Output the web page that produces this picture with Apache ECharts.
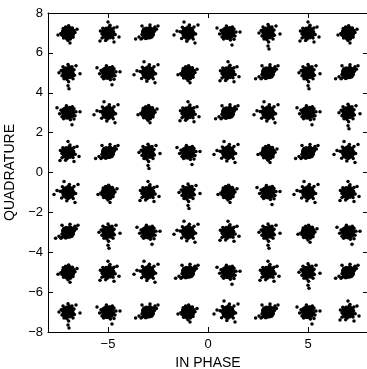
<!DOCTYPE html>
<html><head><meta charset="utf-8">
<script src="https://cdn.jsdelivr.net/npm/echarts@6/dist/echarts.min.js"></script>
<style>html,body{margin:0;padding:0;background:#fff}#c{width:367px;height:369px}</style>
</head><body><div id="c"></div>
<script>
// Constellation levels (64-QAM symbol centres on each axis)
const levels = [-7, -5, -3, -1, 1, 3, 5, 7];
// Tick labels
const xTicks = [-5, 0, 5];
const yTicks = [-8, -6, -4, -2, 0, 2, 4, 6, 8];
// Dense core of every received-symbol cloud (dx, dy pairs)
const coreOffsets = [0.0,0.0, 0.06,0.03, -0.06,-0.03, 0.03,-0.07, -0.03,0.07, 0.1,0.1, -0.1,-0.1, 0.1,-0.1, -0.1,0.1, 0.14,0.0, -0.14,0.0, 0.0,0.14, 0.0,-0.14, 0.17,0.08, -0.17,-0.08, 0.08,-0.17, -0.08,0.17, 0.18,-0.1, -0.18,0.1, 0.1,0.18, -0.1,-0.18, 0.21,0.02, -0.21,-0.02, 0.02,0.21, -0.02,-0.21, 0.05,0.1, -0.05,-0.1, 0.12,-0.04, -0.12,0.04, 0.15,0.15, -0.15,-0.15, 0.15,-0.15, -0.15,0.15, 0.08,0.06, -0.07,0.04, 0.04,-0.04,
  0.24,0.1, -0.24,-0.1, 0.1,-0.24, -0.1,0.24, 0.2,0.2, -0.2,-0.2, 0.2,-0.18, -0.2,0.18, 0.26,-0.1, -0.26,0.1, -0.1,-0.26, 0.1,0.26, 0.05,0.25, -0.05,-0.25, 0.25,-0.04, -0.25,0.04];
// Hand-estimated noise scatter shapes around a symbol (dx, dy pairs)
const offsetsA = [0,0, 0.1,0.05, -0.1,0.08, 0.05,-0.12, -0.08,-0.06, 0.18,0.02, -0.2,-0.02, 0.02,0.2, -0.03,-0.22, 0.15,0.15, -0.15,0.14, 0.14,-0.16, -0.16,-0.15, 0.25,-0.05, -0.26,0.06, 0.06,0.28, -0.05,-0.3, 0.3,0.12, -0.3,-0.12, 0.12,-0.3, -0.12,0.3, 0.22,0.25, -0.24,0.22, 0.25,-0.22, -0.22,-0.26, 0.35,0.02, -0.36,-0.03, 0.03,0.36, 0.0,-0.38, 0.08,0.1, -0.06,0.14, 0.1,-0.04, -0.12,-0.1, 0.2,-0.1, -0.18,0.05, 0.05,0.12, -0.02,-0.14, 0.45,0.18, -0.5,-0.1, 0.1,-0.5];
const offsetsB = [0.05,0.02, -0.12,0.1, 0.13,-0.08, -0.05,-0.15, 0.2,0.12, -0.2,-0.1, 0.1,0.22, -0.1,0.25, 0.27,-0.02, -0.28,0.0, 0.0,-0.27, 0.18,-0.2, -0.18,0.2, 0.3,0.2, -0.3,-0.2, 0.22,0.3, -0.22,-0.3, 0.35,-0.15, -0.35,0.12, 0.12,-0.35, -0.08,0.35, 0.02,0.1, -0.02,-0.05, 0.09,0.09, -0.1,-0.02, 0.15,0.03, -0.14,-0.2, 0.06,-0.2, 0.25,0.1, -0.25,0.15, 0.4,0.05, -0.42,-0.05, 0.3,-0.32, -0.55,0.25, 0.6,0.05, 0.2,-0.6];
const offsetsC = [0,0, 0.1,0.1, -0.1,-0.1, 0.2,0.15, -0.2,-0.18, 0.05,-0.1, -0.06,0.12, 0.3,0.22, -0.28,-0.25, 0.15,-0.05, -0.15,0.05, 0.12,0.25, -0.12,-0.28, 0.25,0.0, -0.25,0.02, 0.0,0.22, 0.02,-0.24, 0.35,0.3, -0.35,-0.3, 0.18,-0.2, -0.2,0.2, 0.08,0.03, -0.04,-0.03, 0.22,0.1, -0.1,0.18, 0.1,-0.18, -0.3,-0.08, 0.32,0.08, 0.42,0.18, -0.45,-0.2, 0.5,0.35, -0.3,0.35, 0.1,0.4, -0.62,-0.3];
const offsetsD = [0.02,-0.02, 0.12,0.0, -0.12,0.02, 0.0,0.13, 0.03,-0.14, 0.2,-0.12, -0.2,0.12, 0.18,0.18, -0.17,-0.18, 0.28,0.05, -0.3,-0.04, 0.06,0.3, -0.04,-0.3, 0.25,-0.25, -0.26,0.24, 0.3,0.25, -0.3,-0.26, 0.1,-0.08, -0.08,0.08, 0.15,0.08, -0.1,-0.12, 0.05,0.18, -0.05,0.2, 0.2,-0.02, 0.36,-0.08, -0.38,0.1, 0.1,0.38, -0.12,-0.38, 0.45,0.3, 0.0,0.55, 0.55,-0.2, -0.4,-0.4, 0.3,-0.45];
const offsetsE = [0,0.05, 0.08,-0.05, -0.08,0.0, 0.02,0.18, -0.02,-0.2, 0.14,0.12, -0.14,-0.12, 0.12,-0.2, -0.12,0.22, 0.22,0.02, -0.22,-0.02, 0.05,0.32, -0.05,-0.34, 0.2,0.3, -0.2,-0.3, 0.25,-0.3, -0.25,0.3, 0.1,0.08, -0.06,0.1, 0.06,-0.1, -0.1,-0.06, 0.16,-0.02, -0.16,0.04, 0.0,0.42, 0.03,-0.45, 0.3,0.15, -0.3,-0.15, 0.32,-0.12, -0.34,0.12, 0.0,-0.65, 0.05,-0.8, 0.4,0.35, -0.45,0.0, 0.6,-0.05];
const offsetsF = [0,0, -0.1,0.05, 0.1,-0.05, -0.05,-0.12, 0.05,0.14, 0.2,0.18, -0.2,-0.16, -0.18,0.2, 0.2,-0.2, 0.3,0.0, -0.3,0.02, 0.0,0.3, 0.02,-0.3, 0.3,0.3, -0.32,-0.28, 0.26,-0.3, -0.28,0.28, 0.12,0.05, -0.12,-0.04, 0.04,-0.2, -0.02,0.22, 0.22,0.08, -0.22,-0.08, 0.14,-0.12, -0.14,0.12, 0.38,-0.05, -0.4,0.06, 0.07,0.4, -0.06,-0.42, -0.55,0.1, -0.7,-0.1, 0.5,0.4, -0.2,0.55, 0.35,-0.5];
const offsetSets = [offsetsA, offsetsB, offsetsC, offsetsD, offsetsE, offsetsF];
// Which scatter shape each cluster uses (rows top to bottom, columns left to right)
const clusterShape = [
 0,3,2,5,1,4,3,0,
 4,1,5,0,3,2,4,2,
 1,5,0,3,2,5,1,4,
 3,2,4,1,5,0,2,5,
 5,0,3,4,0,1,5,3,
 2,4,1,5,3,4,0,1,
 0,3,5,2,1,3,4,2,
 4,1,2,0,5,2,1,3
];

const points = [];
for (let r = 0; r < 8; r++) {
  const q = levels[7 - r];
  for (let c = 0; c < 8; c++) {
    const i = levels[c];
    const s = offsetSets[clusterShape[r * 8 + c]];
    for (let k = 0; k < coreOffsets.length; k += 2) points.push([i + coreOffsets[k], q + coreOffsets[k + 1]]);
    for (let k = 0; k < s.length; k += 2) points.push([i + s[k], q + s[k + 1]]);
  }
}

const fmt = v => (v < 0 ? '\u2212' + Math.abs(v) : String(v));
const font = 'Liberation Sans, Arial, Helvetica, sans-serif';
const line = { show: true, lineStyle: { color: '#000', width: 1 } };
function xAx(pos, labels) {
  return {
    type: 'value', min: -8, max: 8, position: pos,
    axisLine: Object.assign({ onZero: false }, line),
    axisTick: { show: true, inside: true, length: 5, customValues: xTicks, lineStyle: { color: '#000' } },
    axisLabel: { show: labels, customValues: xTicks, formatter: fmt, color: '#000', fontSize: 13, fontFamily: font, margin: 6 },
    splitLine: { show: false },
    name: labels ? 'IN PHASE' : '', nameLocation: 'middle', nameGap: 22,
    nameTextStyle: { color: '#000', fontSize: 14, fontFamily: font }
  };
}
function yAx(pos, labels) {
  return {
    type: 'value', min: -8, max: 8, interval: 2, position: pos,
    axisLine: Object.assign({ onZero: false }, line),
    axisTick: { show: true, inside: true, length: 5, lineStyle: { color: '#000' } },
    axisLabel: { show: labels, formatter: fmt, color: '#000', fontSize: 13, fontFamily: font, margin: 5 },
    splitLine: { show: false },
    name: labels ? 'QUADRATURE' : '', nameLocation: 'middle', nameGap: 24,
    nameTextStyle: { color: '#000', fontSize: 14, fontFamily: font }
  };
}
const chart = echarts.init(document.getElementById('c'));
chart.setOption({
  animation: false,
  backgroundColor: '#fff',
  grid: { left: 48, top: 13, width: 320, height: 319, containLabel: false, outerBoundsMode: 'none' },
  xAxis: [xAx('bottom', true), xAx('top', false)],
  yAxis: [yAx('left', true), yAx('right', false)],
  series: [{
    type: 'scatter', xAxisIndex: 0, yAxisIndex: 0, data: points,
    symbol: 'circle', symbolSize: 3.5, itemStyle: { color: '#000', opacity: 1 }, silent: true
  }]
});
</script></body></html>
